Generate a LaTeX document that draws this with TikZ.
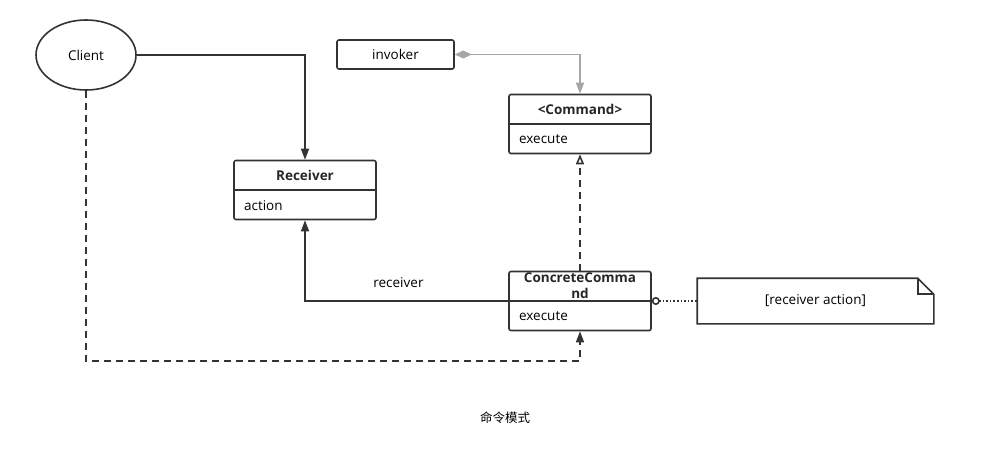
\documentclass[tikz,border=0pt]{standalone}
\usepackage{fontspec}
\setmainfont{Open Sans}
\newfontfamily\cjk{Noto Sans CJK SC}
\usetikzlibrary{arrows.meta,shapes.geometric}

\begin{document}
\begin{tikzpicture}[x=1pt,y=-1pt,line width=1.6pt,font=\fontsize{13.5}{16}\selectfont,
		>={Triangle[length=11pt,width=8pt]}]
		\tikzstyle{cls}=[rectangle,rounded corners=2pt,minimum width=142pt,minimum height=59pt,draw=black!80]
		\tikzstyle{title}=[font=\fontsize{13.5}{16}\selectfont\bfseries,align=center,text=black!85]
		\tikzstyle{dashline}=[dash pattern=on 7pt off 5pt]
		\useasboundingbox (0,0) rectangle (990,468);
		\node[ellipse,draw=black!80,minimum width=100pt,minimum height=70pt] (client) at (86,55) {Client};
		\node[rectangle,rounded corners=2pt,draw=black!80,minimum width=117pt,minimum height=29pt] (inv) at (395.5,54.5) {invoker};
		\foreach \n/\x/\y/\t/\b in {recv/305/190/Receiver/action,cmd/580/124/{<Command>}/execute,ccmd/580/301/{ConcreteComma\\nd}/execute}{
			\node[cls] (\n) at (\x,\y) {};
			\draw[black!80] (\n.west) -- (\n.east);
			\node[title] (\n-t) at (\x,\y-15) {\t};
			\node[anchor=west] (\n-b) at (\x-65,\y+15.5) {\b};
		};
		% note
		\node[minimum width=235pt,minimum height=44pt] (note) at (815.5,301) {[receiver action]};
		\draw[black!80] (note.south west) -- (note.north west) -- ([xshift=-16pt]note.north east) -- ([yshift=-16pt]note.north east) -- (note.south east) -- cycle;
		\draw[black!80] ([xshift=-16pt]note.north east) -- ([xshift=-16pt,yshift=-16pt]note.north east) -- ([yshift=-16pt]note.north east);
		% connectors
		\draw[black!80,->] (client.east) -| (recv.north);
		\draw[black!35,{Diamond[length=17pt,width=8pt]}->] (inv.east) -| (cmd.north);
		\draw[black!80,dashline,-{Triangle[open,length=10pt,width=8pt]}] (ccmd.north) -- (cmd.south);
		\draw[black!80,->] (ccmd.west) -| (recv.south) node[pos=0.27,above=9pt,black] (lbl) {receiver};
		\draw[black!80,dashline,->] (client.south) -- ++(0,270) -| (ccmd.south);
		\draw[black!80,dotted,{Circle[open,length=8pt,width=8pt]}-] (ccmd.east) -- (note.west);
		\node[font=\cjk\fontsize{12.5}{14}\selectfont] (cap) at (505,418) {命令模式};
	\end{tikzpicture}
\end{document}
